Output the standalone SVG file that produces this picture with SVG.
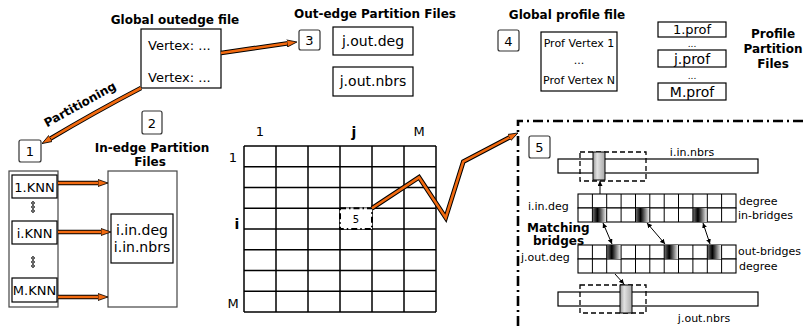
<svg xmlns="http://www.w3.org/2000/svg" width="803" height="326" viewBox="0 0 803 326">
<style>
text{font-family:"DejaVu Sans","Liberation Sans",sans-serif;fill:#000}
.b{font-weight:bold;font-size:12px}
.t14{font-size:14px}
.t13{font-size:13px}
.t11{font-size:11px}
.box{fill:#fff;stroke:#000;stroke-width:1.2}
.nb{fill:#fff;stroke:#333;stroke-width:1.2}
.under{fill:none;stroke:#000;stroke-width:4.6}
.over{fill:none;stroke:#f26a10;stroke-width:2.6}
.grid line{stroke:#000;stroke-width:1.5}
.dash{fill:none;stroke:#000;stroke-width:1.3;stroke-dasharray:5 3}
.thin{fill:none;stroke:#000;stroke-width:1}
.cell{fill:#fff;stroke:#000;stroke-width:1.1}
</style>
<defs>
<marker id="oa" viewBox="0 0 10 8" refX="3" refY="4" markerWidth="10" markerHeight="8" markerUnits="userSpaceOnUse" orient="auto">
<path d="M0,0.5 L10,4 L0,7.5 Z" fill="#f26a10" stroke="#000" stroke-width="0.8"/>
</marker>
<marker id="ba" viewBox="0 0 6 6" refX="6" refY="3" markerWidth="5" markerHeight="5" markerUnits="userSpaceOnUse" orient="auto-start-reverse">
<path d="M0,0 L6,3 L0,6 Z" fill="#000"/>
</marker>
<linearGradient id="bridge" x1="0" y1="0" x2="1" y2="0">
<stop offset="0" stop-color="#777"/>
<stop offset="0.35" stop-color="#000"/>
<stop offset="1" stop-color="#fff"/>
</linearGradient>
<linearGradient id="grayc" x1="0" y1="0" x2="1" y2="0">
<stop offset="0" stop-color="#999"/>
<stop offset="0.35" stop-color="#e2e2e2"/>
<stop offset="1" stop-color="#a8a8a8"/>
</linearGradient>
</defs>

<!-- Global outedge file -->
<g id="global-outedge">
<text class="b" x="175" y="24" text-anchor="middle">Global outedge file</text>
<rect class="box" x="141" y="29" width="80" height="59"/>
<text class="t13" x="148" y="50">Vertex: ...</text>
<text class="t13" x="148" y="82">Vertex: ...</text>
</g>

<!-- Out-edge partition files -->
<g id="outedge-files">
<text class="b" x="375" y="18" text-anchor="middle">Out-edge Partition Files</text>
<rect class="box" x="333" y="27" width="80" height="28"/>
<text class="t14" x="373" y="46" text-anchor="middle">j.out.deg</text>
<rect class="box" x="333" y="67" width="80" height="29"/>
<text class="t14" x="373" y="86" text-anchor="middle">j.out.nbrs</text>
</g>

<g id="n3"><rect class="nb" x="299" y="30" width="21" height="20" rx="2"/><text class="t13" x="309.5" y="45" text-anchor="middle">3</text></g>
<g id="n4"><rect class="nb" x="498" y="30" width="21" height="21" rx="2"/><text class="t13" x="508.5" y="45.5" text-anchor="middle">4</text></g>
<g id="n1"><rect class="nb" x="19" y="140" width="22" height="22" rx="2"/><text class="t13" x="30" y="156" text-anchor="middle">1</text></g>
<g id="n2"><rect class="nb" x="142" y="111" width="20" height="23" rx="2"/><text class="t13" x="152" y="127.5" text-anchor="middle">2</text></g>

<!-- Global profile file -->
<g id="global-profile">
<text class="b" x="567" y="19" text-anchor="middle">Global profile file</text>
<rect class="box" x="541" y="32" width="76" height="59"/>
<text class="t11" x="579" y="47" text-anchor="middle">Prof Vertex 1</text>
<text class="t11" x="579" y="64" text-anchor="middle">...</text>
<text class="t11" x="579" y="84" text-anchor="middle">Prof Vertex N</text>
</g>

<!-- Profile partition files -->
<g id="profile-files">
<rect class="box" x="658" y="22" width="68" height="15"/>
<text class="t13" x="692" y="34" text-anchor="middle">1.prof</text>
<text x="692" y="47" font-size="9" text-anchor="middle">...</text>
<rect class="box" x="658" y="50" width="68" height="17"/>
<text class="t14" x="692" y="64" text-anchor="middle">j.prof</text>
<text x="692" y="79" font-size="9" text-anchor="middle">...</text>
<rect class="box" x="658" y="83" width="68" height="17"/>
<text class="t14" x="692" y="97" text-anchor="middle">M.prof</text>
<text class="b" x="773" y="38" text-anchor="middle">Profile</text>
<text class="b" x="773" y="53" text-anchor="middle">Partition</text>
<text class="b" x="773" y="68" text-anchor="middle">Files</text>
</g>

<!-- KNN column -->
<g id="knn">
<rect x="9" y="171" width="49" height="136" fill="#fff" stroke="#444" stroke-width="1.2"/>
<rect class="box" x="12" y="175" width="45" height="23"/>
<text class="t13" x="34.5" y="192" text-anchor="middle">1.KNN</text>
<circle cx="33" cy="203" r="1.3" class="thin"/><circle cx="33" cy="207" r="1.3" class="thin"/><circle cx="33" cy="211" r="1.3" class="thin"/>
<rect class="box" x="12" y="221" width="45" height="23"/>
<text class="t13" x="34.5" y="238" text-anchor="middle">i.KNN</text>
<circle cx="33" cy="258" r="1.3" class="thin"/><circle cx="33" cy="262" r="1.3" class="thin"/><circle cx="33" cy="266" r="1.3" class="thin"/>
<rect class="box" x="12" y="278" width="45" height="24"/>
<text class="t13" x="34.5" y="295" text-anchor="middle">M.KNN</text>
</g>

<!-- In-edge partition files -->
<g id="inedge-files">
<text class="b" x="152" y="152" text-anchor="middle">In-edge Partition</text>
<text class="b" x="150" y="166" text-anchor="middle">Files</text>
<rect x="108" y="171" width="69" height="136" fill="#fff" stroke="#444" stroke-width="1.2"/>
<rect class="box" x="111" y="214" width="62" height="49"/>
<text class="t14" x="142" y="235" text-anchor="middle">i.in.deg</text>
<text class="t14" x="142" y="252" text-anchor="middle">i.in.nbrs</text>
</g>

<!-- Partition grid -->
<g id="grid" class="grid">
<line x1="244" y1="146" x2="244" y2="312"/><line x1="276" y1="146" x2="276" y2="312"/><line x1="308" y1="146" x2="308" y2="312"/><line x1="340" y1="146" x2="340" y2="312"/><line x1="372" y1="146" x2="372" y2="312"/><line x1="404" y1="146" x2="404" y2="312"/><line x1="436" y1="146" x2="436" y2="312"/>
<line x1="244" y1="146" x2="436" y2="146"/><line x1="244" y1="166.75" x2="436" y2="166.75"/><line x1="244" y1="187.5" x2="436" y2="187.5"/><line x1="244" y1="208.25" x2="436" y2="208.25"/><line x1="244" y1="229" x2="436" y2="229"/><line x1="244" y1="249.75" x2="436" y2="249.75"/><line x1="244" y1="270.5" x2="436" y2="270.5"/><line x1="244" y1="291.25" x2="436" y2="291.25"/><line x1="244" y1="312" x2="436" y2="312"/>
<text class="t13" x="260" y="136" text-anchor="middle">1</text>
<text class="t14" x="354" y="137" text-anchor="middle" font-weight="bold">j</text>
<text class="t13" x="419" y="136" text-anchor="middle">M</text>
<text class="t13" x="233" y="162" text-anchor="middle">1</text>
<text class="t14" x="237" y="229" text-anchor="middle" font-weight="bold">i</text>
<text class="t13" x="233" y="308" text-anchor="middle">M</text>
</g>
<g id="cell5">
<rect x="340" y="208.25" width="32" height="20.75" fill="#fff" stroke="#000" stroke-width="2" stroke-dasharray="6 3 1.5 3"/>
<text x="356" y="223" font-size="10" text-anchor="middle">5</text>
</g>

<!-- Panel 5 frame -->
<g id="panel5">
<path d="M518,326 L518,121 L803,121" fill="none" stroke="#000" stroke-width="2.6" stroke-dasharray="10 4 2 4"/>
<rect class="nb" x="529" y="136" width="21" height="22" rx="2"/>
<text class="t13" x="539.5" y="152" text-anchor="middle">5</text>
</g>

<g id="in-nbrs">
<rect class="box" x="558" y="159" width="200" height="14"/>
<rect class="dash" x="580" y="152" width="66" height="29"/>
<rect x="593" y="152" width="12" height="28" fill="url(#grayc)" stroke="#000" stroke-width="1"/>
<text class="t11" x="692" y="156" text-anchor="middle">i.in.nbrs</text>
</g>

<g id="in-deg">
<rect class="cell" x="578" y="194" width="158" height="14"/>
<rect class="cell" x="578" y="208" width="158" height="14"/>
<rect x="592.4" y="208" width="14.4" height="14" fill="url(#bridge)"/>
<rect x="635.5" y="208" width="14.4" height="14" fill="url(#bridge)"/>
<rect x="692.9" y="208" width="14.4" height="14" fill="url(#bridge)"/>
<path class="thin" d="M592.4,194V222M606.7,194V222M621.1,194V222M635.5,194V222M649.8,194V222M664.2,194V222M678.5,194V222M692.9,194V222M707.3,194V222M721.6,194V222"/>
<text class="t11" x="528" y="210">i.in.deg</text>
<text class="t11" x="739" y="205">degree</text>
<text class="t11" x="738" y="219">in-bridges</text>
</g>

<g id="out-deg">
<rect class="cell" x="578" y="245" width="158" height="14"/>
<rect class="cell" x="578" y="259" width="158" height="14"/>
<rect x="606.7" y="245" width="14.4" height="14" fill="url(#bridge)"/>
<rect x="664.2" y="245" width="14.4" height="14" fill="url(#bridge)"/>
<rect x="707.3" y="245" width="14.4" height="14" fill="url(#bridge)"/>
<path class="thin" d="M592.4,245V273M606.7,245V273M621.1,245V273M635.5,245V273M649.8,245V273M664.2,245V273M678.5,245V273M692.9,245V273M707.3,245V273M721.6,245V273"/>
<text class="t11" x="521" y="261">j.out.deg</text>
<text class="t11" x="738" y="255">out-bridges</text>
<text class="t11" x="739" y="270">degree</text>
<text class="b" x="527" y="232" font-size="10.5px">Matching</text>
<text class="b" x="533" y="245" font-size="10.5px">bridges</text>
</g>

<g id="out-nbrs">
<rect class="box" x="558" y="292" width="200" height="14"/>
<rect class="dash" x="580" y="285" width="66" height="28"/>
<rect x="620" y="285" width="12" height="28" fill="url(#grayc)" stroke="#000" stroke-width="1"/>
<text class="t11" x="704" y="322" text-anchor="middle">j.out.nbrs</text>
</g>

<!-- Connectors -->
<g id="connectors">
<path class="under" d="M141,88 Q95,112 48,140"/>
<path class="over" d="M141,88 Q95,112 48,140" marker-end="url(#oa)"/>
<text class="b" x="0" y="0" transform="translate(82,108) rotate(-29)" text-anchor="middle">Partitioning</text>

<path class="under" d="M221,53 L290,43"/>
<path class="over" d="M221,53 L290,43" marker-end="url(#oa)"/>

<path class="under" d="M58,183 L101,183"/>
<path class="over" d="M58,183 L101,183" marker-end="url(#oa)"/>
<path class="under" d="M58,232 L104,232"/>
<path class="over" d="M58,232 L104,232" marker-end="url(#oa)"/>
<path class="under" d="M58,297 L101,297"/>
<path class="over" d="M58,297 L101,297" marker-end="url(#oa)"/>

<path class="under" d="M372,208.25 L419,177.3 L445.7,217.7 L463.3,161.7 L511.8,136.2" stroke-linejoin="miter"/>
<path class="over" d="M372,208.25 L419,177.3 L445.7,217.7 L463.3,161.7 L511.8,136.2" marker-end="url(#oa)"/>

<path class="thin" d="M600,194 L600,181" marker-end="url(#ba)"/>
<path class="thin" d="M603,223 L612,244" marker-start="url(#ba)" marker-end="url(#ba)"/>
<path class="thin" d="M647,223 L665,244" marker-start="url(#ba)" marker-end="url(#ba)"/>
<path class="thin" d="M703,223 L710,244" marker-start="url(#ba)" marker-end="url(#ba)"/>
<path class="thin" d="M615,274 L624,284" marker-end="url(#ba)"/>
</g>
</svg>
